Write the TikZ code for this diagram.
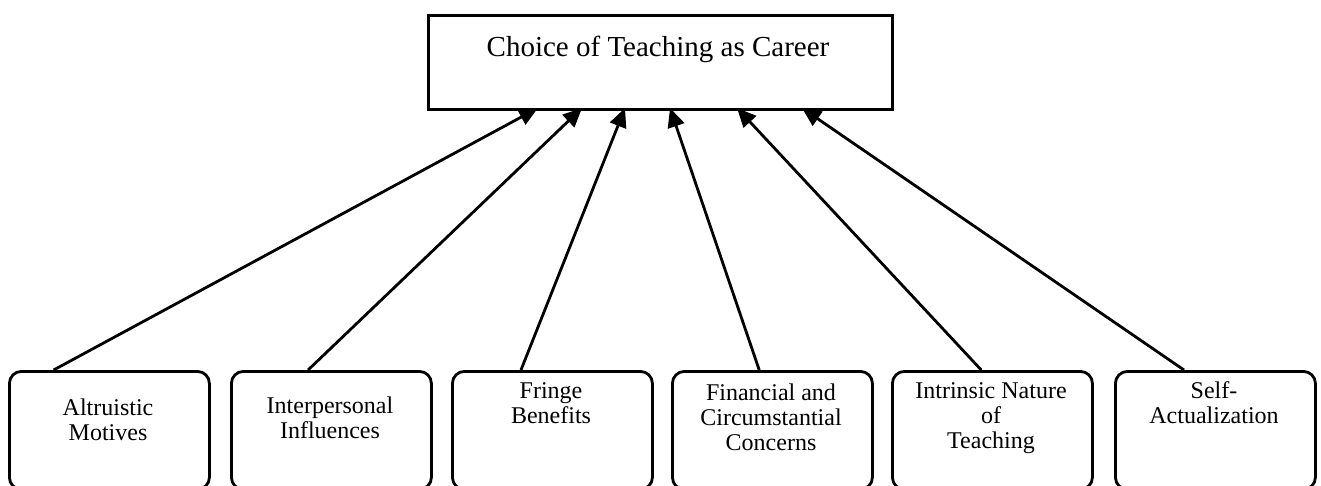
\documentclass[tikz,border=0pt]{standalone}
\usepackage{fontspec}
\setmainfont{Liberation Serif}
\usetikzlibrary{arrows.meta,calc}
\begin{document}
\begin{tikzpicture}[x=1pt,y=-1pt,
  topbox/.style={draw,line width=3.4pt,minimum width=464pt,minimum height=94pt,anchor=north west,inner sep=0pt},
  factorbox/.style={draw,line width=2.8pt,rounded corners=12pt,minimum width=200pt,minimum height=118pt,anchor=north west,inner sep=0pt},
  factortext/.style={align=center,font=\fontsize{24}{25}\selectfont,anchor=base,inner sep=0pt},
  link/.style={line width=2.8pt,-{Triangle[length=19pt,width=17pt]}}]
\useasboundingbox[fill=white] (0,0) rectangle (1321,485);
\node[topbox] (top) at (427,14) {};
\node[font=\fontsize{29}{32}\selectfont,anchor=base,inner sep=0pt] (title) at (658,56) {Choice of Teaching as Career};
\node[factorbox] (b1) at (8,370) {};
\node[factorbox] (b2) at (230,370) {};
\node[factorbox] (b3) at (451,370) {};
\node[factorbox] (b4) at (671,370) {};
\node[factorbox] (b5) at (891,370) {};
\node[factorbox] (b6) at (1114,370) {};
\node[factortext] (l1) at (108,440) {Altruistic\\Motives};
\node[factortext] (l2) at (330,438) {Interpersonal\\Influences};
\node[factortext] (l3) at (551,423) {Fringe\\Benefits};
\node[factortext] (l4) at (771,450) {Financial and\\Circumstantial\\Concerns};
\node[factortext] (l5) at (991,448) {Intrinsic Nature\\of\\Teaching};
\node[factortext] (l6) at (1214,423) {Self-\\Actualization};
\coordinate (t1) at (538,108);
\coordinate (t2) at (582,108);
\coordinate (t3) at (625,108);
\coordinate (t4) at (670,108);
\coordinate (t5) at (737,108);
\coordinate (t6) at (802,108);
\draw[link] ($(b1.north west)!0.225!(b1.north east)$) -- (t1);
\draw[link] ($(b2.north west)!0.385!(b2.north east)$) -- (t2);
\draw[link] ($(b3.north west)!0.345!(b3.north east)$) -- (t3);
\draw[link] ($(b4.north west)!0.435!(b4.north east)$) -- (t4);
\draw[link] ($(b5.north west)!0.445!(b5.north east)$) -- (t5);
\draw[link] ($(b6.north west)!0.345!(b6.north east)$) -- (t6);
\end{tikzpicture}
\end{document}
